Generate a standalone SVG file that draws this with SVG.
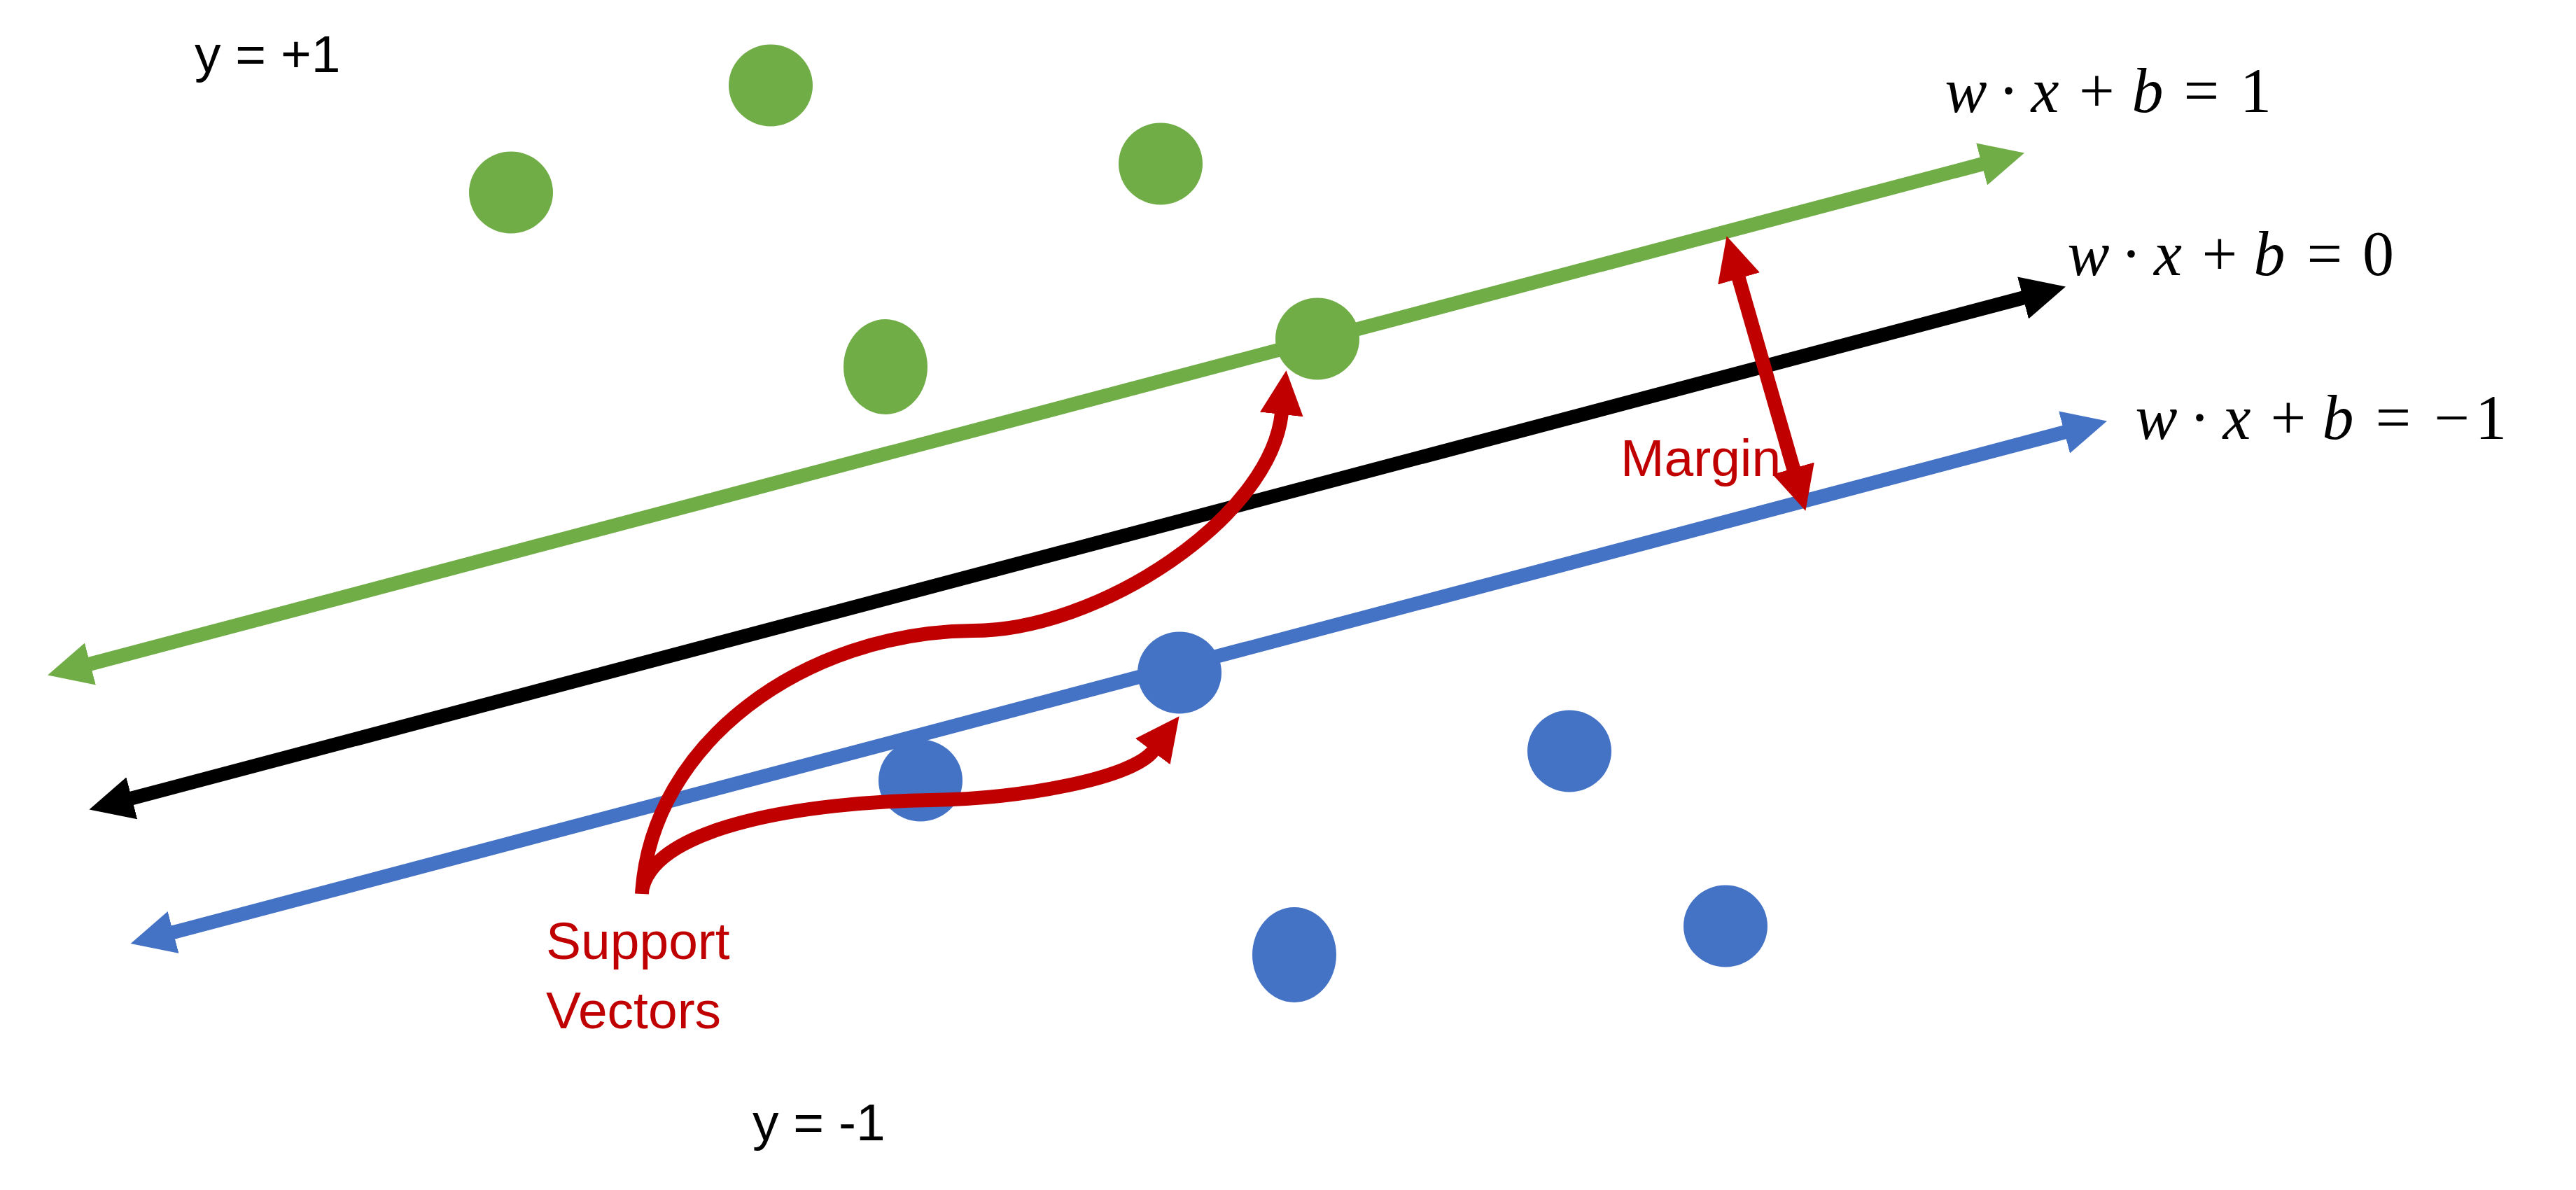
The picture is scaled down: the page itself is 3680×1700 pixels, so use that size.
<svg xmlns="http://www.w3.org/2000/svg" width="3680" height="1700" viewBox="0 0 3680 1700">
<style>
.ln{fill:none;stroke-width:20;stroke-linecap:butt}
.g{fill:#70AD47}
.bl{fill:#4472C4}
.lbl{font-family:"Liberation Sans",Arial,sans-serif;font-size:75px}
.red{fill:#C00000}
.math{font-family:"Liberation Serif","Times New Roman",serif;font-size:90px;fill:#000;text-anchor:middle}
.it{font-style:italic}
</style>
<defs>
<marker id="ahG" markerUnits="userSpaceOnUse" viewBox="0 0 63 62" markerWidth="63" markerHeight="62" refX="2" refY="31" orient="auto-start-reverse"><path d="M0,0 L63,31 L0,62 z" fill="#70AD47"/></marker>
<marker id="ahK" markerUnits="userSpaceOnUse" viewBox="0 0 63 62" markerWidth="63" markerHeight="62" refX="2" refY="31" orient="auto-start-reverse"><path d="M0,0 L63,31 L0,62 z" fill="#000"/></marker>
<marker id="ahB" markerUnits="userSpaceOnUse" viewBox="0 0 63 62" markerWidth="63" markerHeight="62" refX="2" refY="31" orient="auto-start-reverse"><path d="M0,0 L63,31 L0,62 z" fill="#4472C4"/></marker>
<marker id="ahR" markerUnits="userSpaceOnUse" viewBox="0 0 63 62" markerWidth="63" markerHeight="62" refX="2" refY="31" orient="auto-start-reverse"><path d="M0,0 L63,31 L0,62 z" fill="#C00000"/></marker>
</defs>
<rect width="3680" height="1700" fill="#fff"/>

<g id="hyperplanes">
<path id="line-plus" class="ln" stroke="#70AD47" d="M127,949 L2833,234" marker-start="url(#ahG)" marker-end="url(#ahG)"/>
<path id="line-zero" class="ln" stroke="#000" d="M186.4,1140.9 L2892,425" marker-start="url(#ahK)" marker-end="url(#ahK)"/>
<path id="line-minus" class="ln" stroke="#4472C4" d="M245.6,1332.5 L2951,617" marker-start="url(#ahB)" marker-end="url(#ahB)"/>
</g>

<g id="pos-points">
<ellipse id="p1" class="g" cx="730" cy="275" rx="60" ry="58.5"/>
<ellipse id="p2" class="g" cx="1101" cy="122" rx="60" ry="58.5"/>
<ellipse id="p3" class="g" cx="1658" cy="234" rx="60" ry="58.5"/>
<ellipse id="p4" class="g" cx="1265" cy="524" rx="60" ry="68"/>
<ellipse id="p5" class="g" cx="1882" cy="484" rx="60" ry="58.5"/>
</g>
<g id="neg-points">
<ellipse id="n1" class="bl" cx="1685" cy="961" rx="60" ry="58.5"/>
<ellipse id="n2" class="bl" cx="1315" cy="1115" rx="60" ry="58.5"/>
<ellipse id="n3" class="bl" cx="2242" cy="1073" rx="60" ry="58.5"/>
<ellipse id="n4" class="bl" cx="2465" cy="1323" rx="60" ry="58.5"/>
<ellipse id="n5" class="bl" cx="1849" cy="1364" rx="60" ry="68"/>
</g>

<g id="connectors">
<path id="sv-to-pos" class="ln" stroke="#C00000" d="M917,1277 C930,1060 1150,903 1390,901 C1570,901 1815,740 1831,590" marker-end="url(#ahR)"/>
<path id="sv-to-neg" class="ln" stroke="#C00000" d="M918,1268 C940,1180 1150,1146 1330,1143 C1460,1141 1618,1112 1648,1072" marker-end="url(#ahR)"/>
<path id="margin-arrow" class="ln" stroke="#C00000" d="M2483.5,396 L2562.5,671" marker-start="url(#ahR)" marker-end="url(#ahR)"/>
</g>

<g id="labels">
<text class="lbl" x="278" y="103" fill="#000">y = +1</text>
<text class="lbl" x="1075" y="1629" fill="#000">y = -1</text>
<text class="lbl red" x="780" y="1370">Support</text>
<text class="lbl red" x="780" y="1469">Vectors</text>
<text class="lbl red" x="2315" y="680">Margin</text>
</g>

<g id="eq-plus">
<text class="math" y="160"><tspan class="it" x="2808.5">w</tspan><tspan x="2869.5">·</tspan><tspan class="it" x="2921.5">x</tspan><tspan x="2995.5">+</tspan><tspan class="it" x="3068">b</tspan><tspan x="3145">=</tspan><tspan x="3222.5">1</tspan></text>
</g>
<g id="eq-zero">
<text class="math" y="393"><tspan class="it" x="2983.5">w</tspan><tspan x="3044.5">·</tspan><tspan class="it" x="3097">x</tspan><tspan x="3171">+</tspan><tspan class="it" x="3242">b</tspan><tspan x="3321">=</tspan><tspan x="3397.5">0</tspan></text>
</g>
<g id="eq-minus">
<text class="math" y="627"><tspan class="it" x="3080.5">w</tspan><tspan x="3142.5">·</tspan><tspan class="it" x="3195.5">x</tspan><tspan x="3269">+</tspan><tspan class="it" x="3340">b</tspan><tspan x="3419">=</tspan><tspan x="3503">−</tspan><tspan x="3558.5">1</tspan></text>
</g>
</svg>
